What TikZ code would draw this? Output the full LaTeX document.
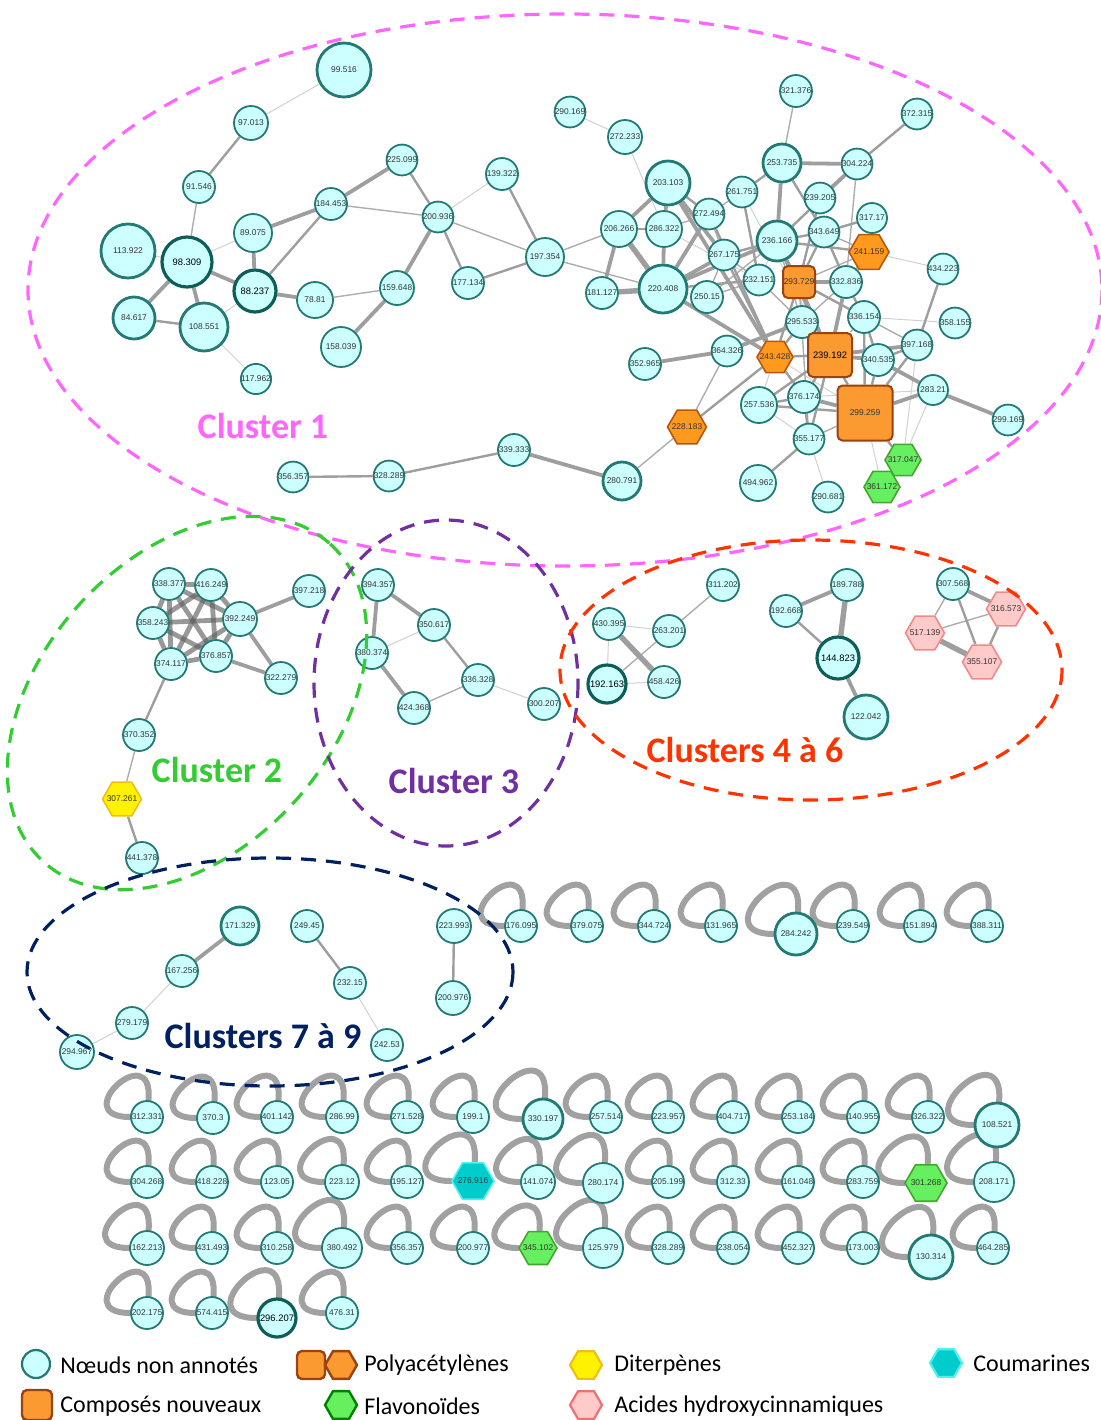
\documentclass[tikz,border=0pt]{standalone}
\usepackage{fontspec}
\newfontfamily\arialf{Liberation Sans}
\newfontfamily\calf{Carlito}
\usetikzlibrary{shapes.geometric,backgrounds}
\definecolor{cfill}{HTML}{CCFFFF}
\definecolor{cdraw}{HTML}{247A72}
\definecolor{cdark}{HTML}{0E5E58}
\definecolor{labc}{HTML}{333333}
\definecolor{orfill}{HTML}{FF9A1E}
\definecolor{ordraw}{HTML}{B8560E}
\definecolor{sqfill}{HTML}{FA9A30}
\definecolor{sqdraw}{HTML}{9A4210}
\definecolor{grfill}{HTML}{66F060}
\definecolor{grdraw}{HTML}{45A532}
\definecolor{pkfill}{HTML}{FFCACA}
\definecolor{pkdraw}{HTML}{F08A8A}
\definecolor{yefill}{HTML}{FFF200}
\definecolor{yedraw}{HTML}{F0C010}
\definecolor{tefill}{HTML}{00CCCC}
\definecolor{tedraw}{HTML}{50F0F0}
\definecolor{cl1}{HTML}{FF66FF}
\definecolor{cl2}{HTML}{33CC33}
\definecolor{cl3}{HTML}{7030A0}
\definecolor{cl4}{HTML}{FF3300}
\definecolor{cl7}{HTML}{002060}
\newcommand\nlab{\arialf\fontsize{4.2}{5}\selectfont}
\newcommand\nlabb{\arialf\fontsize{4.7}{5.5}\selectfont}
\newcommand\legf{\calf\fontsize{12}{14}\selectfont}
\newcommand\clf{\calf\bfseries\fontsize{18}{20}\selectfont}
\newcommand\mkloop[2]{\draw[loopst] (#1.85) .. controls +(85:#2pt) and +(180:#2pt) .. (#1.180);}
\tikzset{
  nd/.style={circle, draw=cdraw, fill=cfill, line width=0.9pt, inner sep=0pt, font=\nlab, text=labc},
  cn/.style={nd, minimum size=#1pt},
  cd/.style={nd, minimum size=#1pt, line width=1.4pt},
  ck/.style={nd, minimum size=#1pt, line width=1.6pt, draw=cdark, font=\nlabb, text=black},
  hexbase/.style={regular polygon, regular polygon sides=6, inner sep=0pt, line width=0.8pt},
  hl/.style={label={[font=\nlab, text=labc, inner sep=0pt]center:#1}},
  hor/.style={hexbase, minimum size=#1pt, fill=orfill, draw=ordraw},
  hgr/.style={hexbase, minimum size=#1pt, fill=grfill, draw=grdraw},
  hpk/.style={hexbase, minimum size=#1pt, fill=pkfill, draw=pkdraw},
  hye/.style={hexbase, minimum size=#1pt, fill=yefill, draw=yedraw},
  hte/.style={hexbase, minimum size=#1pt, fill=tefill, draw=tedraw},
  sqo/.style={rectangle, rounded corners=2.5pt, fill=sqfill, draw=sqdraw, line width=1pt, minimum width=#1pt, minimum height=#1pt, inner sep=0pt, font=\nlab, text=labc},
  el/.style={line width=0.5pt, draw=black!18},
  et/.style={line width=0.7pt, draw=black!32},
  em/.style={line width=1.2pt, draw=black!38},
  ek/.style={line width=1.9pt, draw=black!38},
  ev/.style={line width=2.7pt, draw=black!38},
  eq/.style={line width=2.4pt, draw=black!62, draw opacity=0.65},
  loopst/.style={line width=3pt, draw=black!37, line cap=round},
  cdash/.style={line width=1.6pt, dash pattern=on 7.5pt off 5pt},
  cltxt/.style={font=\clf, inner sep=0pt},
  lgt/.style={font=\legf, inner sep=0pt, anchor=west, text=black}
}
\begin{document}
\begin{tikzpicture}[x=0.5pt,y=-0.5pt]
\useasboundingbox (0,0) rectangle (1100,1420);
% ---------------- Cluster 1
\node[cd=27] (n99516) at (344,70) {99.516};
\node[cn=17] (n97013) at (251,123) {97.013};
\node[cn=16] (n91546) at (199,187) {91.546};
\node[cd=27] (n113922) at (128,251) {113.922};
\node[ck=25] (n98309) at (187,262) {98.309};
\node[cn=19] (n89075) at (253,233) {89.075};
\node[ck=21] (n88237) at (255,291) {88.237};
\node[cd=21] (n84617) at (134,318) {84.617};
\node[cd=24] (n108551) at (204,327) {108.551};
\node[cn=15] (n117962) at (256,379) {117.962};
\node[cn=18] (n7881) at (315,300) {78.81};
\node[cn=16] (n184453) at (331,204) {184.453};
\node[cn=15] (n225099) at (402,160) {225.099};
\node[cn=15] (n200936) at (438,217) {200.936};
\node[cn=17] (n159648) at (397,288) {159.648};
\node[cn=20] (n158039) at (341,347) {158.039};
\node[cn=16] (n177134) at (468,283) {177.134};
\node[cn=16] (n139322) at (502,174) {139.322};
\node[cn=19] (n197354) at (545,257) {197.354};
\node[cn=15] (n290169) at (570,112) {290.169};
\node[cn=17] (n272233) at (625,137) {272.233};
\node[cd=22] (n203103) at (668,183) {203.103};
\node[cn=18] (n206266) at (619,229) {206.266};
\node[cn=18] (n286322) at (664,229) {286.322};
\node[cn=15] (n272494) at (709,214) {272.494};
\node[cn=15] (n261751) at (742,192) {261.751};
\node[cn=15] (n267175) at (724,255) {267.175};
\node[cn=16] (n181127) at (602,293) {181.127};
\node[cd=24] (n220408) at (663,289) {220.408};
\node[cn=16] (n25015) at (707,297) {250.15};
\node[cn=15] (n232151) at (759,280) {232.151};
\node[cn=15] (n364326) at (727,351) {364.326};
\node[cn=16] (n352965) at (645,364) {352.965};
\node[hor=19.5, hl=228.183] (n228183) at (687,427) {};
\node[cd=19] (n280791) at (622,481) {280.791};
\node[cn=16] (n339333) at (514,450) {339.333};
\node[cn=15] (n328289) at (389,476) {328.289};
\node[cn=15] (n356357) at (293,477) {356.357};
\node[cn=16] (n321376) at (796,91) {321.376};
\node[cn=15] (n372315) at (917,114) {372.315};
\node[cd=19] (n253735) at (782,163) {253.735};
\node[cn=15] (n304224) at (857,164) {304.224};
\node[cn=15] (n239205) at (820,198) {239.205};
\node[cn=15] (n31717) at (872,218) {317.17};
\node[cd=20] (n236166) at (777,241) {236.166};
\node[cn=15] (n343649) at (824,232) {343.649};
\node[hor=20, hl=241.159] (n241159) at (869,252) {};
\node[cn=15] (n434223) at (943,269) {434.223};
\node[sqo=16] (n293729) at (799,282) {293.729};
\node[cn=16] (n332836) at (846,282) {332.836};
\node[cn=16] (n295533) at (802,322) {295.533};
\node[cn=16] (n336154) at (864,317) {336.154};
\node[cn=15] (n358155) at (955,323) {358.155};
\node[cn=15] (n397168) at (917,345) {397.168};
\node[sqo=22, font=\nlabb, text=black] (n239192) at (830,355) {239.192};
\node[cn=16] (n340535) at (878,360) {340.535};
\node[hor=18, hl=243.428] (n243428) at (775,357) {};
\node[cn=15] (n28321) at (933,390) {283.21};
\node[cn=18] (n257536) at (759,405) {257.536};
\node[cn=16] (n376174) at (804,397) {376.174};
\node[sqo=27.5] (n299259) at (865,413) {299.259};
\node[cn=15] (n299169) at (1008,420) {299.169};
\node[cn=15] (n355177) at (809,439) {355.177};
\node[hgr=18, hl=317.047] (n317047) at (903,460) {};
\node[cn=18] (n494962) at (758,483) {494.962};
\node[cn=15] (n290681) at (828,497) {290.681};
\node[hgr=18, hl=361.172] (n361172) at (882,487) {};
% ---------------- Cluster 2
\node[cn=16] (n338377) at (169,584) {338.377};
\node[cn=16] (n416249) at (211,585) {416.249};
\node[cn=16] (n358243) at (153,623) {358.243};
\node[cn=17] (n392249) at (240,619) {392.249};
\node[cn=16] (n397218) at (309,591) {397.218};
\node[cn=16] (n374117) at (171,664) {374.117};
\node[cn=16] (n376857) at (216,656) {376.857};
\node[cn=16] (n322279) at (281,678) {322.279};
\node[cn=16] (n370352) at (139,735) {370.352};
\node[hye=19.5, hl=307.261] (n307261) at (122,799) {};
\node[cn=16] (n441378) at (142,858) {441.378};
% ---------------- Cluster 3
\node[cn=16] (n394357) at (378,585) {394.357};
\node[cn=16] (n350617) at (434,625) {350.617};
\node[cn=16] (n380374) at (372,653) {380.374};
\node[cn=16] (n336328) at (478,680) {336.328};
\node[cn=16] (n424368) at (414,708) {424.368};
\node[cn=16] (n300207) at (544,704) {300.207};
% ---------------- Clusters 4-6
\node[cn=16] (n311202) at (723,585) {311.202};
\node[cn=16] (n430395) at (609,624) {430.395};
\node[cn=16] (n263201) at (669,631) {263.201};
\node[ck=19] (n192163) at (607,684) {192.163};
\node[cn=16] (n458426) at (664,682) {458.426};
\node[cn=16] (n189788) at (847,585) {189.788};
\node[cn=16] (n192668) at (786,611) {192.668};
\node[ck=21] (n144823) at (838,658) {144.823};
\node[cd=22] (n122042) at (866,717) {122.042};
\node[cn=16] (n307568) at (953,584) {307.568};
\node[hpk=19.5, hl=316.573] (n316573) at (1006,609) {};
\node[hpk=19.5, hl=517.139] (n517139) at (925,633) {};
\node[hpk=19.5, hl=355.107] (n355107) at (982,662) {};
% ---------------- Clusters 7-9
\node[cd=19] (n171329) at (240,926) {171.329};
\node[cn=16] (n167256) at (182,971) {167.256};
\node[cn=16] (n279179) at (132,1023) {279.179};
\node[cn=17] (n294967) at (77,1052) {294.967};
\node[cn=16] (n24945) at (307,926) {249.45};
\node[cn=16] (n23215) at (350,983) {232.15};
\node[cn=16] (n24253) at (387,1045) {242.53};
\node[cn=17] (n223993) at (454,926) {223.993};
\node[cn=17] (n200976) at (453,998) {200.976};
% ---------------- Self-loop nodes
\foreach \x/\y/\r/\t/\nm in {
 521/926/16/176.095/l176095, 587/926/16/379.075/l379075, 654/926/16/344.724/l344724,
 721/926/16/131.965/l131965, 853/926/16/239.549/l239549, 920/926/16/151.894/l151894,
 987/926/16/388.311/l388311,
 147/1117/16/312.331/l312331, 213/1118/16/370.3/l3703, 277/1117/16/401.142/l401142,
 342/1117/16/286.99/l28699, 407/1117/16/271.528/l271528, 473/1117/16/199.1/l1991,
 606/1117/16/257.514/l257514, 668/1117/16/223.957/l223957, 733/1117/16/404.717/l404717,
 798/1117/16/253.184/l253184, 863/1117/16/140.955/l140955, 928/1117/16/326.322/l326322,
 147/1182/16/304.268/l304268, 212/1182/16/418.228/l418228, 277/1182/16/123.05/l12305,
 342/1182/17/223.12/l22312, 407/1182/16/195.127/l195127, 538/1182/17/141.074/l141074,
 603/1183/20/280.174/l280174, 668/1182/16/205.199/l205199, 733/1182/16/312.33/l31233,
 798/1182/16/161.048/l161048, 863/1182/16/283.759/l283759, 994/1182/20/208.171/l208171,
 147/1248/17/162.213/l162213, 212/1248/16/431.493/l431493, 277/1248/16/310.258/l310258,
 342/1248/20/380.492/l380492, 407/1248/16/356.357/l356357, 473/1248/16/200.977/l200977,
 603/1248/20/125.979/l125979, 668/1248/16/328.289/l328289, 733/1248/16/238.054/l238054,
 798/1248/16/452.327/l452327, 863/1248/16/173.003/l173003, 993/1248/16/464.285/l464285,
 147/1313/16/202.175/l202175, 212/1313/16/574.415/l574415, 342/1313/16/476.31/l47631}
 {\node[cn=\r] (\nm) at (\x,\y) {\t};}
\node[cd=21] (l284242) at (796,934) {284.242};
\node[cd=20] (l330197) at (543,1119) {330.197};
\node[cd=22] (l108521) at (997,1125) {108.521};
\node[hte=21, hl=276.916] (l276916) at (473,1181) {};
\node[hgr=21, hl=301.268] (l301268) at (926,1183) {};
\node[hgr=19, hl=345.102] (l345102) at (538,1248) {};
\node[cd=22] (l130314) at (931,1257) {130.314};
\node[ck=19] (l296207) at (277,1318) {296.207};
% ---------------- edges and loops (behind nodes)
\begin{pgfonlayer}{background}
\foreach \a/\b in {n99516/n97013, n113922/n98309, n98309/n89075, n108551/n117962, n108551/n88237,
  n200936/n139322, n272233/n286322, n241159/n434223, n336154/n358155, n397168/n317047,
  n28321/n317047, n28321/n376174, n299259/n361172, n355177/n290681, n243428/n257536,
  n257536/n355177, n31717/n241159, n286322/n232151, n261751/n239192, n243428/n299259,
  n380374/n350617, n336328/n300207, n430395/n263201, n430395/n192163, n192163/n458426,
  n167256/n279179, n279179/n294967, n23215/n24253, n236166/n232151, n290169/n272233}
  \draw[el] (\a) -- (\b);
\foreach \a/\b in {n91546/n98309, n184453/n200936, n7881/n159648, n197354/n220408, n261751/n272494,
  n25015/n232151, n25015/n236166, n25015/n267175, n267175/n232151, n272494/n267175,
  n286322/n272494, n304224/n332836, n343649/n241159, n241159/n332836, n241159/n293729,
  n293729/n295533, n332836/n295533, n336154/n397168, n336154/n239192, n299259/n355177,
  n355177/n293729, n424368/n336328, n311202/n263201, n263201/n192163, n307568/n517139,
  n316573/n517139, n236166/n295533, n232151/n295533, n364326/n228183, n370352/n307261,
  n197354/n206266, n228183/n280791, n321376/n253735, n200936/n197354}
  \draw[et] (\a) -- (\b);
\foreach \a/\b in {n97013/n91546, n84617/n108551, n88237/n184453, n225099/n200936, n200936/n177134,
  n177134/n197354, n139322/n197354, n206266/n286322, n203103/n272494, n261751/n253735,
  n261751/n232151, n267175/n236166, n220408/n232151, n228183/n243428, n339333/n328289,
  n328289/n356357, n494962/n355177, n372315/n304224, n253735/n343649, n304224/n236166,
  n239205/n293729, n343649/n31717, n343649/n236166, n343649/n293729, n343649/n332836,
  n236166/n241159, n236166/n293729, n293729/n336154, n293729/n243428, n293729/n239192,
  n332836/n336154, n434223/n397168, n336154/n340535, n336154/n299259, n295533/n239192,
  n295533/n243428, n239192/n243428, n239192/n376174, n239192/n355177, n239192/n299259,
  n239192/n257536, n340535/n397168, n340535/n299259, n397168/n299259, n299259/n257536,
  n299259/n317047, n376174/n257536, n376174/n355177, n376174/n243428, n272494/n243428,
  n267175/n243428, n350617/n336328, n192668/n144823, n307568/n355107, n316573/n355107,
  n24945/n23215, n223993/n200976, n374117/n370352, n307261/n441378}
  \draw[em] (\a) -- (\b);
\foreach \a/\b in {n98309/n84617, n98309/n108551, n98309/n88237, n89075/n88237, n89075/n184453,
  n88237/n7881, n159648/n158039, n159648/n200936, n184453/n225099, n203103/n206266,
  n203103/n286322, n203103/n267175, n206266/n181127, n286322/n220408, n272494/n220408,
  n267175/n220408, n220408/n236166, n220408/n243428, n364326/n352965, n280791/n339333,
  n253735/n304224, n253735/n236166, n304224/n239205, n293729/n332836, n332836/n239192,
  n239192/n340535, n239192/n397168, n340535/n28321, n28321/n299259, n28321/n299169,
  n299259/n376174, n364326/n295533, n236166/n239192, n203103/n243428, n392249/n397218,
  n392249/n322279, n376857/n322279, n394357/n350617, n394357/n380374, n380374/n424368,
  n189788/n192668, n144823/n122042, n307568/n316573, n171329/n167256}
  \draw[ek] (\a) -- (\b);
\foreach \a/\b in {n206266/n220408, n181127/n220408, n430395/n458426, n189788/n144823, n517139/n355107}
  \draw[ev] (\a) -- (\b);
\foreach \a/\b in {n338377/n416249, n338377/n358243, n338377/n392249, n338377/n374117, n338377/n376857,
  n416249/n358243, n416249/n392249, n416249/n374117, n416249/n376857, n358243/n392249,
  n358243/n374117, n358243/n376857, n392249/n374117, n392249/n376857, n374117/n376857}
  \draw[eq] (\a) -- (\b);
\foreach \nm in {l176095, l379075, l344724, l131965, l239549, l151894, l388311,
  l312331, l3703, l401142, l28699, l271528, l1991, l257514, l223957, l404717, l253184,
  l140955, l326322, l304268, l418228, l12305, l195127, l205199, l31233,
  l161048, l283759, l431493, l310258, l356357, l200977, l328289, l238054,
  l452327, l173003, l464285, l202175, l574415, l47631}
  {\mkloop{\nm}{32}}
\foreach \nm in {l22312, l141074, l162213, l345102}
  {\mkloop{\nm}{33}}
\foreach \nm in {l284242, l330197, l108521, l276916, l301268, l130314, l280174, l208171,
  l380492, l125979, l296207}
  {\mkloop{\nm}{36}}
\end{pgfonlayer}
% ---------------- cluster outlines
\draw[cdash, cl1] (565,290) ellipse [x radius=537, y radius=276];
\draw[cdash, cl2, rotate around={48:(187,703)}] (187,703) ellipse [x radius=214, y radius=146];
\draw[cdash, cl3] (446,683) ellipse [x radius=132, y radius=163];
\draw[cdash, cl4] (811,670) ellipse [x radius=251, y radius=130];
\draw[cdash, cl7] (270,972) ellipse [x radius=243, y radius=114];
\node[cltxt, text=cl1] (t1) at (263,426) {Cluster 1};
\node[cltxt, text=cl2] (t2) at (217,770) {Cluster 2};
\node[cltxt, text=cl3] (t3) at (454,781) {Cluster 3};
\node[cltxt, text=cl4] (t4) at (745,750) {Clusters 4 à 6};
\node[cltxt, text=cl7] (t7) at (263,1036) {Clusters 7 à 9};
% ---------------- legend
\node[cn=14, line width=1.1pt] (lgA) at (36,1364) {};
\node[lgt] (lgAt) at (60,1365) {Nœuds non annotés};
\node[sqo=14, line width=1.2pt] (lgB1) at (311,1365) {};
\node[hor=16, line width=1.2pt, draw=sqdraw, fill=sqfill] (lgB2) at (341,1365) {};
\node[lgt] (lgBt) at (364,1365) {Polyacétylènes};
\node[hye=16, line width=1.1pt] (lgC) at (586,1365) {};
\node[lgt] (lgCt) at (614,1365) {Diterpènes};
\node[hte=16, line width=1.1pt] (lgD) at (946,1363) {};
\node[lgt] (lgDt) at (973,1363) {Coumarines};
\node[sqo=15, line width=1.2pt] (lgE) at (37,1405) {};
\node[lgt] (lgEt) at (60,1406) {Composés nouveaux};
\node[hgr=16, line width=1.2pt, draw=green!50!black] (lgF) at (341,1405) {};
\node[lgt] (lgFt) at (364,1406) {Flavonoïdes};
\node[hpk=16, line width=1.1pt, draw=pkdraw!80!red] (lgG) at (586,1405) {};
\node[lgt] (lgGt) at (614,1406) {Acides hydroxycinnamiques};
\end{tikzpicture}
\end{document}
